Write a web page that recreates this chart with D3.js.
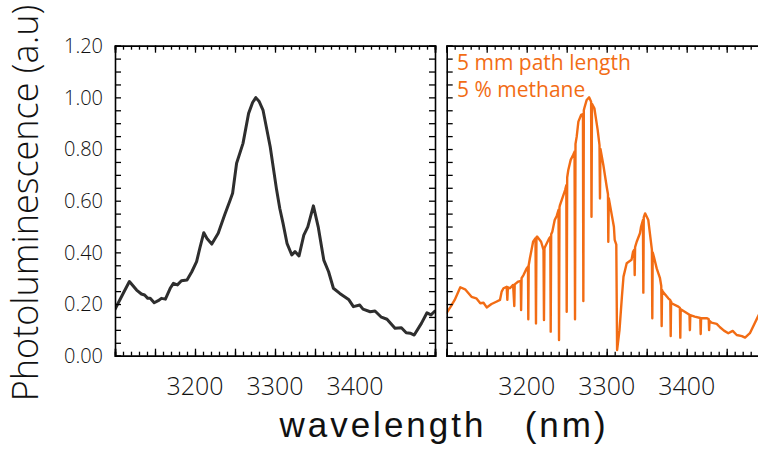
<!DOCTYPE html>
<html><head><meta charset="utf-8">
<script src="https://cdn.jsdelivr.net/npm/d3@7"></script>
<style>
html,body{margin:0;padding:0;background:#fff;}
svg{display:block;}
</style></head>
<body>
<svg id="c" width="758" height="449"></svg>
<script>
// ---- data ----
const xTickLabels = [3200, 3300, 3400];
const yTickLabels = [0, 0.2, 0.4, 0.6, 0.8, 1.0, 1.2];

const leftWl = [3100,3105,3110,3118,3127,3133,3137,3141,3144,3149,3154,3158,3163,3169,3173,3178,3183,3190,3196,3202,3206,3211,3215,3221,3229,3237,3244,3247,3252,3260,3267,3272,3276,3280,3285,3294,3302,3306,3310,3315,3321,3325,3330,3336,3341,3348,3354,3361,3367,3373,3381,3392,3398,3406,3410,3419,3425,3433,3440,3450,3458,3464,3469,3474,3483,3490,3495,3500];
const leftPL = [0.18,0.21,0.24,0.287,0.254,0.239,0.235,0.222,0.222,0.205,0.213,0.222,0.219,0.261,0.280,0.274,0.290,0.293,0.325,0.364,0.416,0.476,0.454,0.432,0.474,0.545,0.603,0.629,0.745,0.822,0.938,0.98,0.999,0.985,0.951,0.809,0.642,0.57,0.513,0.435,0.390,0.403,0.386,0.467,0.499,0.580,0.499,0.370,0.325,0.261,0.241,0.218,0.190,0.196,0.180,0.170,0.173,0.149,0.141,0.106,0.108,0.089,0.087,0.080,0.125,0.166,0.158,0.173];

const rightWl = [3100,3105,3110,3117,3123,3131,3137,3142,3146,3150,3156,3162,3166.6,3168.7,3171,3175,3175.8,3176.5,3179,3183,3184.5,3185,3189.5,3192.5,3193,3193.6,3196,3200,3201.6,3202,3202.5,3204,3208,3211,3211.6,3212.2,3213,3218,3221,3221.6,3222.2,3223,3228,3229.5,3230,3230.6,3232,3235,3237.5,3239.8,3240.4,3241,3241.6,3248,3249.5,3250,3250.6,3252,3255,3258,3259.8,3260.4,3261,3262.5,3264.6,3268,3270.3,3270.8,3271.4,3272,3275,3278,3280.5,3281,3281.6,3284.6,3288.7,3291,3291.6,3292.2,3295.8,3300,3301.6,3302,3302.6,3306,3309,3310,3312,3313,3316,3319,3321,3325,3331,3333,3334.5,3335,3335.5,3337.5,3341.6,3343,3345.3,3345.8,3346.3,3348,3352,3356,3356.5,3357,3357.5,3359,3362.5,3366.6,3368.2,3368.7,3369.2,3370,3377,3379.5,3380,3380.5,3381,3389.5,3391.5,3392,3392.5,3394,3402,3403.5,3404,3404.5,3410,3417,3417.5,3418,3425,3427.5,3428,3428.5,3431,3437.5,3441.6,3446.6,3452,3457.5,3462.5,3469,3473,3479,3488,3492];
const rightPL = [0.166,0.19,0.216,0.265,0.257,0.228,0.222,0.203,0.205,0.187,0.200,0.209,0.216,0.248,0.261,0.267,0.216,0.265,0.261,0.274,0.192,0.276,0.287,0.290,0.177,0.30,0.312,0.338,0.345,0.141,0.35,0.377,0.441,0.455,0.125,0.458,0.461,0.441,0.410,0.138,0.415,0.422,0.454,0.46,0.093,0.47,0.480,0.525,0.541,0.565,0.061,0.575,0.583,0.641,0.66,0.170,0.69,0.719,0.758,0.777,0.79,0.141,0.82,0.848,0.906,0.932,0.935,0.212,0.95,0.958,0.990,1.0,0.983,0.538,0.975,0.958,0.874,0.815,0.609,0.80,0.738,0.654,0.625,0.441,0.61,0.551,0.499,0.448,0.43,0.022,0.099,0.228,0.306,0.358,0.371,0.403,0.41,0.312,0.42,0.441,0.474,0.500,0.525,0.244,0.535,0.551,0.525,0.422,0.41,0.145,0.40,0.383,0.338,0.300,0.27,0.115,0.255,0.248,0.222,0.215,0.076,0.210,0.203,0.190,0.185,0.070,0.18,0.177,0.161,0.158,0.099,0.157,0.151,0.146,0.084,0.145,0.145,0.142,0.099,0.135,0.128,0.123,0.110,0.097,0.087,0.096,0.080,0.076,0.070,0.087,0.145,0.17];

const annotations = ["5 mm path length", "5 % methane"];

// ---- layout ----
const svg = d3.select("#c");
const plotTop = 45.7, plotBottom = 355.7;
const panels = [
  {x0: 115, x1: 435, wl: leftWl, pl: leftPL, color: "#2e2e2e", w: 3},
  {x0: 446.7, x1: 766.7, wl: rightWl, pl: rightPL, color: "#f26c14", w: 2.4}
];
const y = d3.scaleLinear().domain([0, 1.2]).range([plotBottom, plotTop]);
const fontNum = "'Open Sans', 'DejaVu Sans', sans-serif";

panels.forEach((p, i) => {
  const x = d3.scaleLinear().domain([3100, 3500]).range([p.x0, p.x1]);
  const g = svg.append("g");
  const cid = "clip" + i;
  svg.append("clipPath").attr("id", cid).append("rect")
    .attr("x", p.x0).attr("y", plotTop).attr("width", p.x1 - p.x0).attr("height", plotBottom - plotTop);

  const data = p.wl.map((w, k) => [w, p.pl[k]]);
  g.append("path").datum(data)
    .attr("clip-path", `url(#${cid})`)
    .attr("fill", "none").attr("stroke", p.color).attr("stroke-width", p.w)
    .attr("stroke-linejoin", "round").attr("stroke-linecap", "round")
    .attr("d", d3.line().x(d => x(d[0])).y(d => y(d[1])));

  const minorX = d3.range(3100, 3501, 10);
  const majorX = d3.range(3100, 3501, 50);
  const yT = d3.range(0, 1.2001, 0.05);

  g.append("g").attr("transform", `translate(0,${plotBottom})`)
    .call(d3.axisBottom(x).tickValues(minorX).tickSize(-4).tickFormat(""));
  g.append("g").attr("transform", `translate(0,${plotBottom})`)
    .call(d3.axisBottom(x).tickValues(majorX).tickSize(-7).tickFormat(""));
  g.append("g").attr("transform", `translate(0,${plotTop})`)
    .call(d3.axisTop(x).tickValues(minorX).tickSize(-4).tickFormat(""));
  g.append("g").attr("transform", `translate(0,${plotTop})`)
    .call(d3.axisTop(x).tickValues(majorX).tickSize(-7).tickFormat(""));
  g.append("g").attr("transform", `translate(${p.x0},0)`)
    .call(d3.axisLeft(y).tickValues(yT).tickSize(-6).tickFormat(""));
  g.append("g").attr("transform", `translate(${p.x1},0)`)
    .call(d3.axisRight(y).tickValues(yT).tickSize(-6).tickFormat(""));

  g.selectAll(".domain").attr("stroke", "#000").attr("stroke-width", 1.6);
  g.selectAll(".tick line").attr("stroke", "#000").attr("stroke-width", 1.3);

  g.selectAll("text.xl").data(xTickLabels).enter().append("text")
    .attr("class", "xl")
    .attr("x", d => x(d)).attr("y", 395)
    .attr("text-anchor", "middle")
    .style("font-family", fontNum).style("font-weight", 300).style("font-size", "25px")
    .attr("fill", "#111").text(d => d);

  if (i === 0) {
    g.selectAll("text.yl").data(yTickLabels).enter().append("text")
      .attr("class", "yl")
      .attr("x", 103).attr("y", d => y(d))
      .attr("dy", "0.36em")
      .attr("text-anchor", "end")
      .style("font-family", fontNum).style("font-weight", 300).style("font-size", "20px")
      .attr("fill", "#111").text(d => d.toFixed(2));
  } else {
    annotations.forEach((t, k) => {
      g.append("text").attr("x", 457).attr("y", 69.5 + k * 27.5)
        .style("font-family", fontNum).style("font-size", "21px")
        .attr("fill", p.color).text(t);
    });
  }
});

svg.append("text")
  .attr("transform", "translate(38,203) rotate(-90)")
  .attr("text-anchor", "middle")
  .style("font-family", fontNum).style("font-weight", 300).style("font-size", "36px")
  .attr("fill", "#111").text("Photoluminescence (a.u)");

svg.append("text")
  .attr("x", 444).attr("y", 437)
  .attr("text-anchor", "middle")
  .style("font-family", "'Liberation Sans', Arial, sans-serif").style("font-size", "35px")
  .style("letter-spacing", "3px").style("white-space", "pre")
  .attr("fill", "#111").text("wavelength   (nm)");
</script>
</body></html>
